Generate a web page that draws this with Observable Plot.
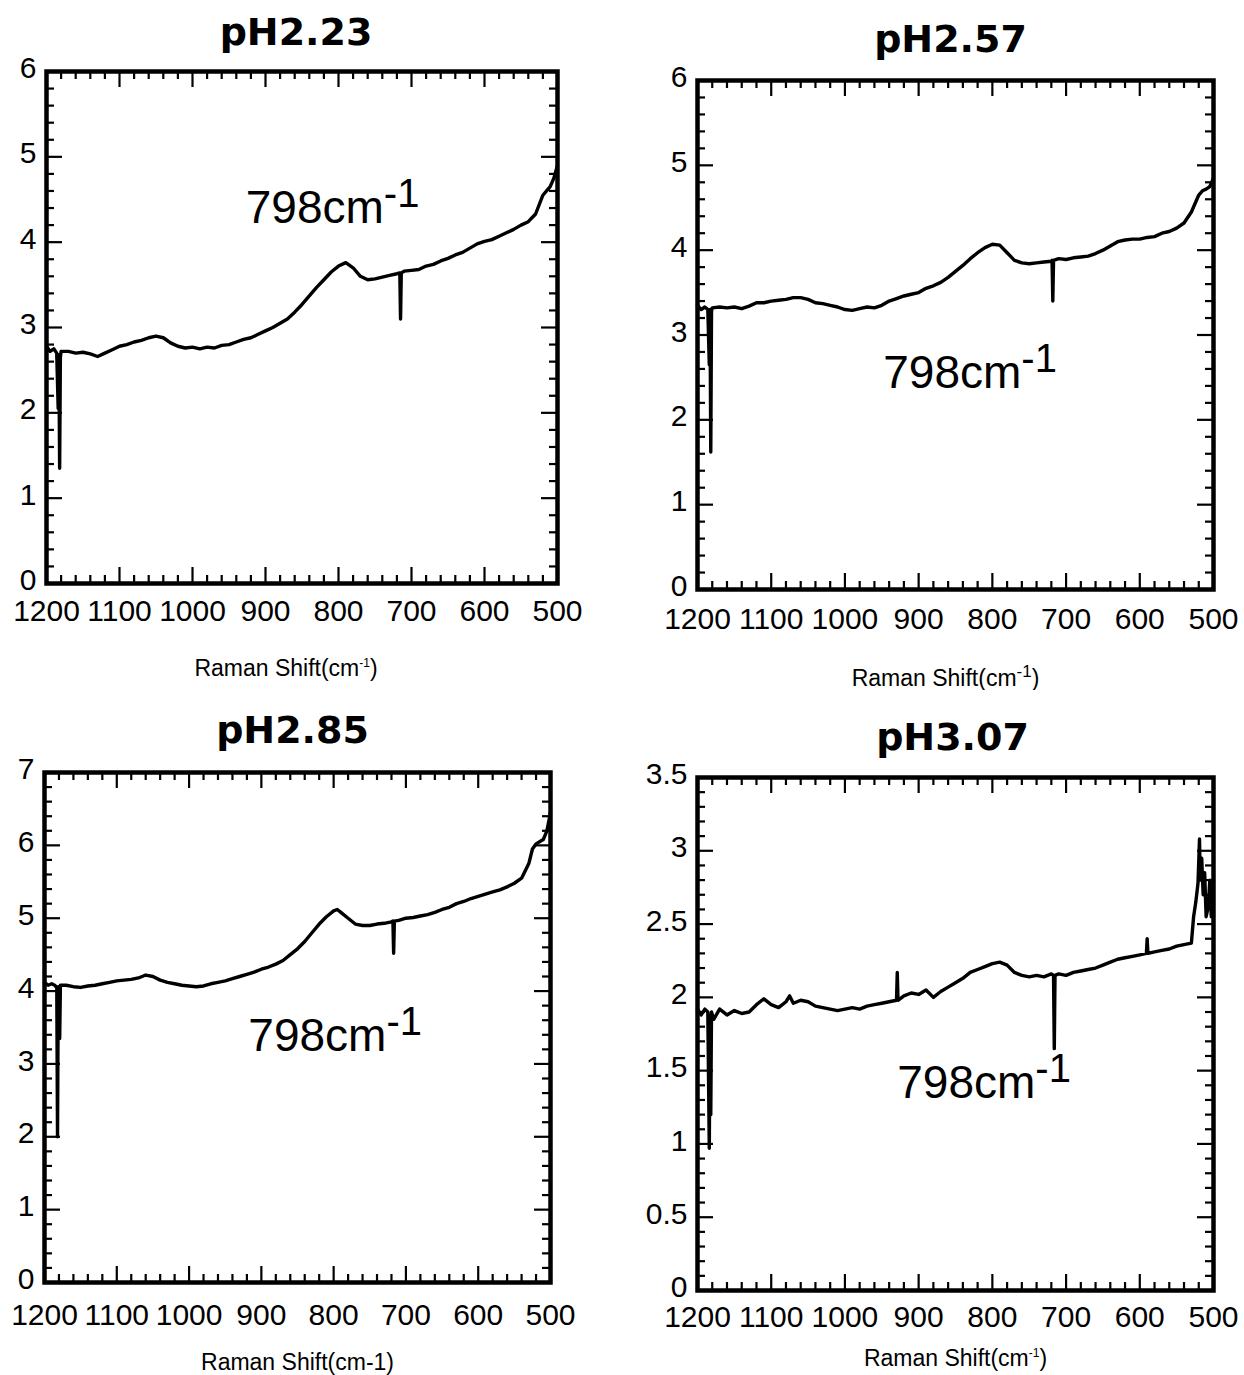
<!DOCTYPE html>
<html><head><meta charset="utf-8">
<script src="https://cdn.jsdelivr.net/npm/d3@7"></script>
<script src="https://cdn.jsdelivr.net/npm/@observablehq/plot@0.6"></script>
<style>
body{margin:0;background:#fff;}
#chart{position:relative;width:1244px;height:1375px;background:#fff;overflow:hidden;}
#chart svg{position:absolute;background:transparent;}
</style></head><body><div id="chart"></div>
<script>
// ---------- tick labels ----------
const xMajorTicks = [1200, 1100, 1000, 900, 800, 700, 600, 500];
const yTicks6 = [0, 1, 2, 3, 4, 5, 6];
const yTicks7 = [0, 1, 2, 3, 4, 5, 6, 7];
const yTicks35 = [0, 0.5, 1, 1.5, 2, 2.5, 3, 3.5];

// ---------- pH 2.23 ----------
const ph223Shift = [1200,1195,1190,1186,1184,1183,1182,1181,1180,1170,1160,1150,1140,1130,1120,1110,1100,1090,1080,1070,1060,1050,1040,1030,1020,1010,1000,990,980,970,960,950,940,930,920,910,900,890,880,870,860,850,840,830,820,810,800,790,780,770,760,750,740,730,720,716,715,714,710,700,690,680,670,660,650,640,630,620,610,600,590,580,570,560,550,540,530,520,515,510,505,500];
const ph223Intensity = [2.78,2.72,2.75,2.70,2.05,2.68,1.35,2.65,2.72,2.72,2.70,2.71,2.69,2.66,2.70,2.74,2.78,2.80,2.83,2.85,2.88,2.90,2.88,2.82,2.78,2.76,2.77,2.75,2.77,2.76,2.79,2.80,2.83,2.86,2.88,2.92,2.96,3.00,3.05,3.10,3.18,3.27,3.37,3.47,3.56,3.65,3.72,3.76,3.70,3.60,3.56,3.57,3.59,3.61,3.63,3.64,3.10,3.64,3.66,3.67,3.68,3.72,3.74,3.78,3.81,3.85,3.88,3.93,3.98,4.01,4.03,4.07,4.11,4.15,4.20,4.24,4.33,4.55,4.60,4.65,4.75,4.90];

// ---------- pH 2.57 ----------
const ph257Shift = [1200,1195,1190,1186,1184,1183,1182,1181,1180,1170,1160,1150,1140,1130,1120,1110,1100,1090,1080,1070,1060,1050,1040,1030,1020,1010,1000,990,980,970,960,950,940,930,920,910,900,890,880,870,860,850,840,830,820,810,800,790,780,770,760,750,740,730,720,719,718,717,710,700,690,680,670,660,650,640,630,620,610,600,590,580,570,560,550,540,530,520,515,510,505,500];
const ph257Intensity = [3.35,3.30,3.33,3.30,2.65,3.30,1.62,3.28,3.32,3.33,3.32,3.33,3.31,3.34,3.38,3.38,3.40,3.41,3.42,3.44,3.44,3.42,3.38,3.37,3.35,3.33,3.30,3.29,3.31,3.33,3.32,3.35,3.40,3.43,3.46,3.48,3.50,3.55,3.58,3.62,3.68,3.75,3.82,3.90,3.97,4.03,4.07,4.06,3.97,3.88,3.85,3.84,3.85,3.86,3.87,3.88,3.40,3.88,3.90,3.89,3.91,3.92,3.93,3.96,4.00,4.05,4.10,4.12,4.13,4.13,4.15,4.16,4.20,4.22,4.26,4.32,4.45,4.65,4.70,4.72,4.75,4.85];

// ---------- pH 2.85 ----------
const ph285Shift = [1200,1195,1190,1186,1183,1182,1181,1179,1178,1170,1160,1150,1140,1130,1120,1110,1100,1090,1080,1070,1060,1050,1040,1030,1020,1010,1000,990,980,970,960,950,940,930,920,910,900,890,880,870,860,850,840,830,820,810,800,795,790,780,770,760,750,740,730,720,718,717,716,710,700,690,680,670,660,650,640,630,620,610,600,590,580,570,560,550,540,530,525,520,510,505,500];
const ph285Intensity = [4.12,4.08,4.10,4.08,4.05,2.00,4.06,3.35,4.08,4.08,4.06,4.05,4.07,4.08,4.10,4.12,4.14,4.15,4.16,4.18,4.22,4.20,4.15,4.12,4.10,4.08,4.07,4.06,4.07,4.10,4.12,4.14,4.17,4.20,4.23,4.26,4.30,4.33,4.37,4.42,4.50,4.58,4.68,4.80,4.92,5.02,5.10,5.12,5.08,5.00,4.92,4.90,4.90,4.92,4.93,4.95,4.96,4.52,4.96,4.97,5.00,5.01,5.03,5.05,5.08,5.12,5.15,5.20,5.23,5.27,5.30,5.33,5.36,5.39,5.43,5.48,5.55,5.75,5.95,6.02,6.08,6.20,6.45];

// ---------- pH 3.07 ----------
const ph307Shift = [1200,1195,1190,1186,1184,1183,1182,1181,1178,1170,1160,1150,1140,1130,1120,1110,1100,1090,1080,1075,1070,1060,1050,1040,1030,1020,1010,1000,990,980,970,960,950,940,930,929,928,920,910,900,890,880,870,860,850,840,830,820,810,800,790,780,770,760,750,740,730,720,717,716,715,710,700,690,680,670,660,650,640,630,620,610,600,591,590,589,580,570,560,550,540,530,527,524,521,519,518,516,514,512,510,507,505,503,501,500];
const ph307Intensity = [1.92,1.88,1.92,1.90,0.97,1.88,1.20,1.90,1.85,1.92,1.88,1.91,1.89,1.90,1.95,1.99,1.95,1.93,1.97,2.01,1.96,1.98,1.97,1.94,1.93,1.92,1.91,1.92,1.93,1.92,1.94,1.95,1.96,1.97,1.98,2.17,1.98,2.01,2.03,2.02,2.05,2.00,2.04,2.07,2.10,2.13,2.17,2.19,2.21,2.23,2.24,2.22,2.17,2.15,2.14,2.15,2.14,2.16,2.15,1.65,2.15,2.16,2.15,2.17,2.18,2.19,2.20,2.22,2.24,2.26,2.27,2.28,2.29,2.30,2.40,2.30,2.31,2.32,2.33,2.35,2.36,2.37,2.55,2.65,2.78,3.08,2.80,2.95,2.70,2.85,2.55,2.62,2.80,2.55,2.75,2.80];

const FONT = "Liberation Sans, Arial, Helvetica, sans-serif";

const panels = [
  {title: "pH2.23", shift: ph223Shift, intensity: ph223Intensity, yMax: 6, yMajor: yTicks6, yMinorStep: 0.2,
   left: 0, top: 0, width: 620, height: 690, ml: 46, mt: 71, mr: 63, mb: 107,
   titleDx: -6, titleDy: -27, axisTitle: "Raman Shift(cm^-1)", axDx: -16, axDy: 92, supSize: 12, supDy: 9,
   xPad: 16, annoX: 927, annoY: 4.22},
  {title: "pH2.57", shift: ph257Shift, intensity: ph257Intensity, yMax: 6, yMajor: yTicks6, yMinorStep: 0.2,
   left: 622, top: 0, width: 622, height: 690, ml: 75, mt: 80, mr: 31, mb: 101,
   titleDx: -5, titleDy: -29, axisTitle: "Raman Shift(cm^-1)", axDx: -10, axDy: 96, supSize: 17, supDy: 9,
   xPad: 18, annoX: 948, annoY: 2.38},
  {title: "pH2.85", shift: ph285Shift, intensity: ph285Intensity, yMax: 7, yMajor: yTicks7, yMinorStep: 0.2,
   left: 0, top: 690, width: 620, height: 685, ml: 44, mt: 82, mr: 70, mb: 93,
   titleDx: -5, titleDy: -30, axisTitle: "Raman Shift(cm-1)", axDx: 0, axDy: 87, supSize: 0, supDy: 0,
   xPad: 21, annoX: 918, annoY: 3.18},
  {title: "pH3.07", shift: ph307Shift, intensity: ph307Intensity, yMax: 3.5, yMajor: yTicks35, yMinorStep: 0.1,
   left: 622, top: 690, width: 622, height: 685, ml: 75, mt: 87, mr: 31, mb: 85,
   titleDx: -3, titleDy: -28, axisTitle: "Raman Shift(cm^-1)", axDx: 0, axDy: 75, supSize: 12, supDy: 9,
   xPad: 15, annoX: 929, annoY: 1.31}
];

function rebuild(svg, content, parts) {
  d3.select(svg).selectAll("text")
    .filter(function () { return this.textContent === content; })
    .each(function () {
      const el = d3.select(this);
      el.text(null);
      for (const p of parts) {
        const ts = el.append("tspan").text(p.t);
        if (p.size) ts.attr("font-size", p.size);
        if (p.dy) ts.attr("dy", p.dy);
      }
    });
}

const chart = document.getElementById("chart");

for (const cfg of panels) {
  const fw = cfg.width - cfg.ml - cfg.mr;
  const fh = cfg.height - cfg.mt - cfg.mb;
  const pxX = fw / 700, pxY = fh / cfg.yMax;
  const majL = 16, minL = 8;
  const xMinor = d3.range(1180, 500, -20).filter(v => v % 100 !== 0);
  const yMinor = d3.range(0, cfg.yMax + 1e-9, cfg.yMinorStep)
    .map(v => +v.toFixed(3))
    .filter(v => !cfg.yMajor.some(m => Math.abs(m - v) < 1e-6));
  const data = cfg.shift.map((x, i) => ({x, y: cfg.intensity[i]}));
  const tk = {stroke: "black", strokeWidth: 2.2};

  const plot = Plot.plot({
    width: cfg.width, height: cfg.height,
    marginLeft: cfg.ml, marginTop: cfg.mt, marginRight: cfg.mr, marginBottom: cfg.mb,
    style: {fontFamily: FONT, color: "black", background: "transparent"},
    x: {domain: [1200, 500]},
    y: {domain: [0, cfg.yMax]},
    marks: [
      Plot.line(data, {x: "x", y: "y", stroke: "black", strokeWidth: 3.4, strokeLinejoin: "round"}),
      // bottom ticks
      Plot.ruleX(xMajorTicks, {x: d => d, y1: 0, y2: majL / pxY, ...tk}),
      Plot.ruleX(xMinor, {x: d => d, y1: 0, y2: minL / pxY, ...tk}),
      // top ticks
      Plot.ruleX(xMajorTicks, {x: d => d, y1: cfg.yMax, y2: cfg.yMax - majL / pxY, ...tk}),
      Plot.ruleX(xMinor, {x: d => d, y1: cfg.yMax, y2: cfg.yMax - minL / pxY, ...tk}),
      // left ticks
      Plot.ruleY(cfg.yMajor, {y: d => d, x1: 1200, x2: 1200 - majL / pxX, ...tk}),
      Plot.ruleY(yMinor, {y: d => d, x1: 1200, x2: 1200 - minL / pxX, ...tk}),
      // right ticks
      Plot.ruleY(cfg.yMajor, {y: d => d, x1: 500, x2: 500 + majL / pxX, ...tk}),
      Plot.ruleY(yMinor, {y: d => d, x1: 500, x2: 500 + minL / pxX, ...tk}),
      Plot.frame({stroke: "black", strokeWidth: 4.5}),
      Plot.axisX({anchor: "bottom", ticks: xMajorTicks, tickSize: 0, tickPadding: cfg.xPad,
        tickFormat: d => String(d), fontSize: 30, label: null}),
      Plot.axisY({anchor: "left", ticks: cfg.yMajor, tickSize: 0, tickPadding: 10, dy: -3,
        tickFormat: d => String(d), fontSize: 30, label: null}),
      Plot.text([cfg.title], {text: d => d, frameAnchor: "top", dx: cfg.titleDx, dy: cfg.titleDy,
        lineAnchor: "bottom", fontSize: 38, fontWeight: "bold", fontFamily: "DejaVu Sans", fill: "black"}),
      Plot.text([cfg.axisTitle], {text: d => d, frameAnchor: "bottom", dx: cfg.axDx, dy: cfg.axDy,
        lineAnchor: "bottom", fontSize: 23, fontFamily: FONT, fill: "black"}),
      Plot.text(["798cm^-1"], {text: d => d, x: cfg.annoX, y: cfg.annoY, textAnchor: "start",
        lineAnchor: "bottom", fontSize: 46, fontFamily: FONT, fill: "black"})
    ]
  });

  rebuild(plot, "798cm^-1", [{t: "798cm"}, {t: "-1", size: 40, dy: -16}]);
  if (cfg.supSize) {
    rebuild(plot, "Raman Shift(cm^-1)", [{t: "Raman Shift(cm"}, {t: "-1", size: cfg.supSize, dy: -cfg.supDy}, {t: ")", size: 23, dy: cfg.supDy}]);
  }
  plot.style.left = cfg.left + "px";
  plot.style.top = cfg.top + "px";
  chart.appendChild(plot);
}
</script></body></html>
